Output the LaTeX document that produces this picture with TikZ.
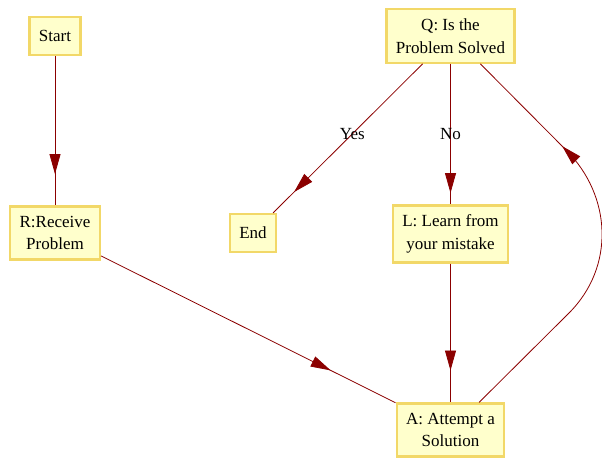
\documentclass[tikz,border=0pt]{standalone}
\usepackage{fontspec}
\setmainfont{Liberation Serif}
\usetikzlibrary{arrows.meta,decorations.markings}

\definecolor{boxfill}{RGB}{255,255,204}
\definecolor{boxline}{RGB}{242,216,104}
\definecolor{edgered}{RGB}{139,0,0}

\tikzset{
  stepnode/.style={draw=boxline, fill=boxfill, line width=2.2pt, align=center,
    inner xsep=9.5pt, inner ysep=9.5pt, minimum height=38pt,
    font=\fontsize{17}{22.5}\selectfont},
  flow/.style={color=edgered, line width=0.8pt,
    postaction={decorate, decoration={markings,
      mark=at position #1 with {\arrow{Triangle[length=20pt,width=11pt]}}}}},
  flow/.default=0.8,
  answer/.style={text=black, inner sep=0pt, font=\fontsize{17}{20}\selectfont}
}

\begin{document}
\begin{tikzpicture}[x=1pt,y=-1pt]
\useasboundingbox (0,0) rectangle (602,460);

\node[stepnode] (start) at (55,36) {Start};
\node[stepnode] (recv) at (55,233) {R:Receive\\Problem};
\node[stepnode] (query) at (450.5,36) {Q: Is the\\Problem Solved};
\node[stepnode] (finish) at (253,233) {End};
\node[stepnode] (learn) at (450.5,234) {L: Learn from\\your mistake};
\node[stepnode] (attempt) at (450.5,430) {A: Attempt a\\Solution};

\coordinate (loopin) at (569,313);
\coordinate (loopout) at (566,150);

\draw[flow=0.79] (start) -- (recv);
\draw[flow=0.86] (query) -- node[answer, pos=0.47] {Yes} (finish);
\draw[flow=0.92] (query) -- node[answer, pos=0.5] {No} (learn);
\draw[flow=0.77] (learn) -- (attempt);
\draw[flow=0.78] (recv) -- (attempt);
\draw[flow=0.73] (attempt.44) -- (loopin)
  .. controls (615,267) and (612,196) .. (loopout) -- (query.-43);
\end{tikzpicture}
\end{document}
